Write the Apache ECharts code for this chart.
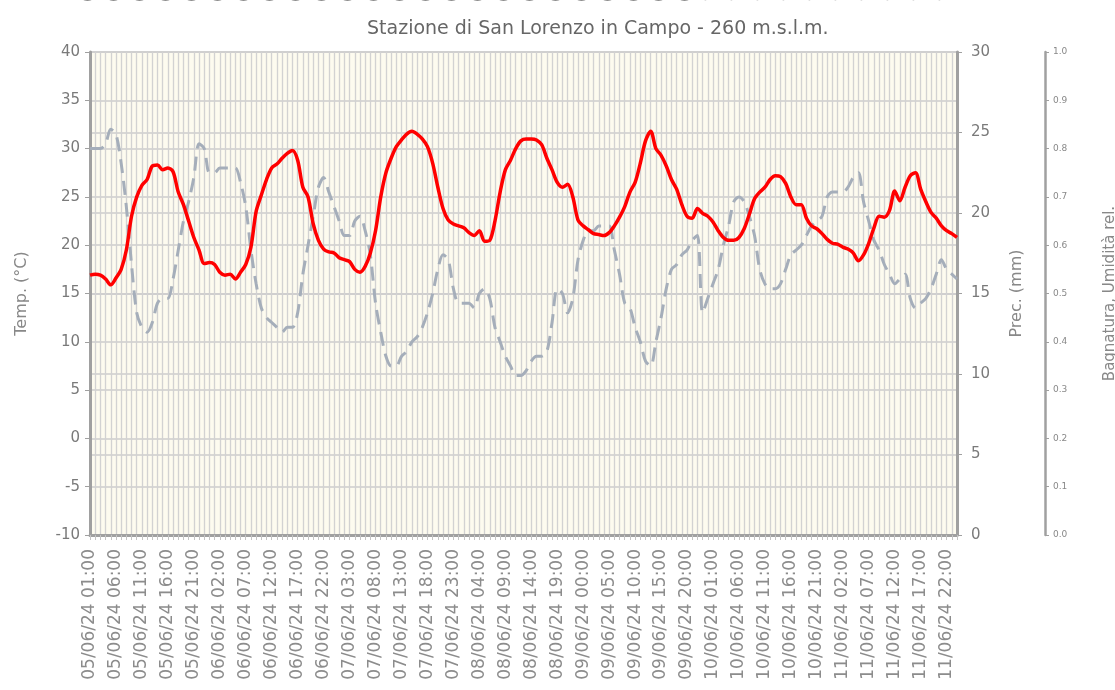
<!DOCTYPE html>
<html>
<head>
<meta charset="utf-8">
<title>Stazione di San Lorenzo in Campo</title>
<script src="https://cdn.jsdelivr.net/npm/echarts@6/dist/echarts.min.js"></script>
<style>
  html, body { margin: 0; padding: 0; background: #fff; }
  #chart { width: 1115px; height: 690px; }
</style>
</head>
<body>
<div id="chart"></div>
<script>
// giorni coperti dalla serie oraria (05/06 01:00 -> 12/06 00:00)
var days = ['05/06/24', '06/06/24', '07/06/24', '08/06/24', '09/06/24', '10/06/24', '11/06/24', '12/06/24'];
var firstHour = 1;
var hoursCount = 168;

// temperatura (°C), un valore per ora
var temperature = [
  16.9, 17.0, 16.9, 16.5, 15.9, 16.6, 17.5, 19.5, 23.0, 25.0, 26.2, 26.8, 28.2, 28.3, 27.8, 28.0, 27.6, 25.5, 24.2, 22.5, 20.8, 19.5, 18.1, 18.2,
  18.0, 17.2, 16.9, 17.0, 16.5, 17.2, 18.0, 19.8, 23.5, 25.2, 26.8, 28.0, 28.4, 29.0, 29.5, 29.8, 28.8, 26.0, 25.0, 22.2, 20.5, 19.6, 19.3, 19.2,
  18.7, 18.5, 18.3, 17.5, 17.2, 17.8, 19.2, 21.5, 25.0, 27.5, 29.0, 30.2, 30.9, 31.5, 31.8, 31.5, 31.0, 30.2, 28.5, 26.0, 23.8, 22.6, 22.2, 22.0,
  21.8, 21.3, 21.0, 21.5, 20.4, 20.5, 22.5, 25.5, 27.8, 28.8, 30.0, 30.8, 31.0, 31.0, 30.9, 30.4, 29.0, 27.8, 26.5, 26.0, 26.3, 25.0, 22.6, 22.0,
  21.6, 21.2, 21.1, 21.0, 21.3, 22.0, 22.9, 24.0, 25.5, 26.5, 28.5, 30.8, 31.8, 30.0, 29.3, 28.2, 26.8, 25.8, 24.2, 23.0, 22.8, 23.8, 23.3, 23.0,
  22.4, 21.5, 20.8, 20.5, 20.5, 20.8, 21.7, 23.2, 24.8, 25.5, 26.0, 26.8, 27.2, 27.1, 26.4, 25.0, 24.2, 24.2, 22.8, 22.0, 21.7, 21.2, 20.6, 20.2,
  20.1, 19.8, 19.6, 19.2, 18.4, 19.0, 20.2, 21.8, 23.0, 22.9, 23.6, 25.6, 24.6, 26.0, 27.2, 27.5, 25.8, 24.5, 23.4, 22.8, 22.0, 21.5, 21.2, 20.8
];

// umidità relativa (0-1), un valore per ora
var humidity = [
  0.80, 0.80, 0.80, 0.81, 0.84, 0.83, 0.77, 0.68, 0.56, 0.46, 0.43, 0.42, 0.44, 0.48, 0.49, 0.49, 0.53, 0.59, 0.65, 0.69, 0.74, 0.81, 0.80, 0.75,
  0.75, 0.76, 0.76, 0.76, 0.76, 0.73, 0.68, 0.59, 0.52, 0.47, 0.45, 0.44, 0.43, 0.42, 0.43, 0.43, 0.46, 0.54, 0.60, 0.66, 0.72, 0.74, 0.71, 0.68,
  0.65, 0.62, 0.62, 0.65, 0.66, 0.63, 0.58, 0.48, 0.42, 0.37, 0.35, 0.35, 0.37, 0.38, 0.40, 0.41, 0.43, 0.46, 0.50, 0.55, 0.58, 0.57, 0.51, 0.48,
  0.48, 0.48, 0.47, 0.50, 0.51, 0.49, 0.43, 0.40, 0.37, 0.35, 0.33, 0.33, 0.34, 0.36, 0.37, 0.37, 0.38, 0.44, 0.51, 0.50, 0.46, 0.49, 0.57, 0.61,
  0.63, 0.63, 0.64, 0.64, 0.64, 0.59, 0.54, 0.48, 0.47, 0.43, 0.40, 0.36, 0.35, 0.40, 0.45, 0.51, 0.55, 0.56, 0.58, 0.59, 0.61, 0.62, 0.46, 0.49,
  0.52, 0.55, 0.60, 0.64, 0.69, 0.70, 0.69, 0.66, 0.62, 0.55, 0.52, 0.51, 0.51, 0.52, 0.55, 0.58, 0.59, 0.60, 0.62, 0.64, 0.65, 0.66, 0.70, 0.71,
  0.71, 0.71, 0.72, 0.74, 0.75, 0.69, 0.65, 0.61, 0.59, 0.56, 0.54, 0.52, 0.53, 0.54, 0.49, 0.47, 0.48, 0.49, 0.51, 0.54, 0.57, 0.55, 0.54, 0.53
];

var categories = [];
for (var i = 0; i < hoursCount; i++) {
  var h = firstHour + i;
  var hh = h % 24;
  categories.push(days[Math.floor(h / 24)] + ' ' + (hh < 10 ? '0' + hh : hh) + ':00');
}

var font = 'DejaVu Sans';
var gridColor = '#cdcdcd';
var axisColor = '#a0a0a0';

var myChart = echarts.init(document.getElementById('chart'));

var option = {
  backgroundColor: '#ffffff',
  animation: false,
  title: {
    text: 'Stazione di San Lorenzo in Campo - 260 m.s.l.m.',
    left: 362,
    top: 15,
    textStyle: { fontFamily: font, fontSize: 19, fontWeight: 'normal', color: '#666' }
  },
  grid: {
    left: 90,
    right: 158,
    top: 52,
    bottom: 155,
    outerBoundsMode: 'none',
    containLabel: false,
    show: true,
    backgroundColor: '#fdfbef',
    borderWidth: 0
  },
  xAxis: [
    {
      type: 'category',
      data: categories,
      boundaryGap: false,
      axisLine: { onZero: false, lineStyle: { color: axisColor, width: 3 } },
      axisTick: { interval: 0, length: 5, lineStyle: { color: '#c4c4c4' } },
      axisLabel: {
        interval: 4,
        rotate: 90,
        margin: 14,
        fontFamily: font,
        fontSize: 17,
        color: '#8c8c8c'
      },
      splitLine: { show: true, interval: 0, lineStyle: { color: '#d2d2d2', width: 1.3 } }
    },
    {
      // etichette del grafico precedente, tagliate in alto
      type: 'category',
      data: categories,
      boundaryGap: false,
      position: 'top',
      offset: 42,
      axisLine: { show: false, onZero: false },
      axisTick: { show: false },
      axisLabel: {
        interval: 4,
        rotate: -90,
        margin: 8,
        fontFamily: font,
        fontSize: 17,
        color: '#8c8c8c'
      },
      splitLine: { show: false }
    }
  ],
  yAxis: [
    {
      type: 'value',
      name: 'Temp. (°C)',
      nameLocation: 'middle',
      nameRotate: 90,
      nameGap: 60,
      nameTextStyle: { fontFamily: font, fontSize: 16, color: '#888' },
      min: -10,
      max: 40,
      interval: 5,
      axisLine: { show: true, lineStyle: { color: axisColor, width: 3 } },
      axisTick: { show: true, length: 5, lineStyle: { color: axisColor } },
      axisLabel: { fontFamily: font, fontSize: 15, color: '#7a7a7a', margin: 10 },
      splitLine: { show: true, lineStyle: { color: gridColor, width: 1.5 } }
    },
    {
      type: 'value',
      name: 'Prec. (mm)',
      nameLocation: 'middle',
      nameRotate: 90,
      nameGap: 52,
      nameTextStyle: { fontFamily: font, fontSize: 16, color: '#888' },
      position: 'right',
      min: 0,
      max: 30,
      interval: 5,
      axisLine: { show: true, lineStyle: { color: axisColor, width: 3 } },
      axisTick: { show: true, length: 5, lineStyle: { color: axisColor } },
      axisLabel: { fontFamily: font, fontSize: 15, color: '#7a7a7a', margin: 14 },
      splitLine: { show: true, lineStyle: { color: gridColor, width: 1.5 } }
    },
    {
      type: 'value',
      name: 'Bagnatura, Umidità rel.',
      nameLocation: 'middle',
      nameRotate: 90,
      nameGap: 58,
      nameTextStyle: { fontFamily: font, fontSize: 15, color: '#888' },
      position: 'right',
      offset: 88,
      min: 0,
      max: 1,
      interval: 0.1,
      axisLine: { show: true, lineStyle: { color: axisColor, width: 2.5 } },
      axisTick: { show: true, length: 4, lineStyle: { color: axisColor } },
      axisLabel: {
        fontFamily: font,
        fontSize: 9,
        color: '#888',
        margin: 8,
        formatter: function (v) { return v.toFixed(1); }
      },
      splitLine: { show: false }
    }
  ],
  series: [
    {
      name: 'Umidità rel.',
      type: 'line',
      yAxisIndex: 2,
      data: humidity,
      smooth: 0.3,
      showSymbol: false,
      lineStyle: { color: '#a5aeba', width: 3, type: [14, 8] },
      z: 2
    },
    {
      name: 'Temp.',
      type: 'line',
      yAxisIndex: 0,
      data: temperature,
      smooth: 0.3,
      showSymbol: false,
      lineStyle: { color: '#ff0000', width: 3.5 },
      z: 3
    }
  ]
};

myChart.setOption(option);
</script>
</body>
</html>
